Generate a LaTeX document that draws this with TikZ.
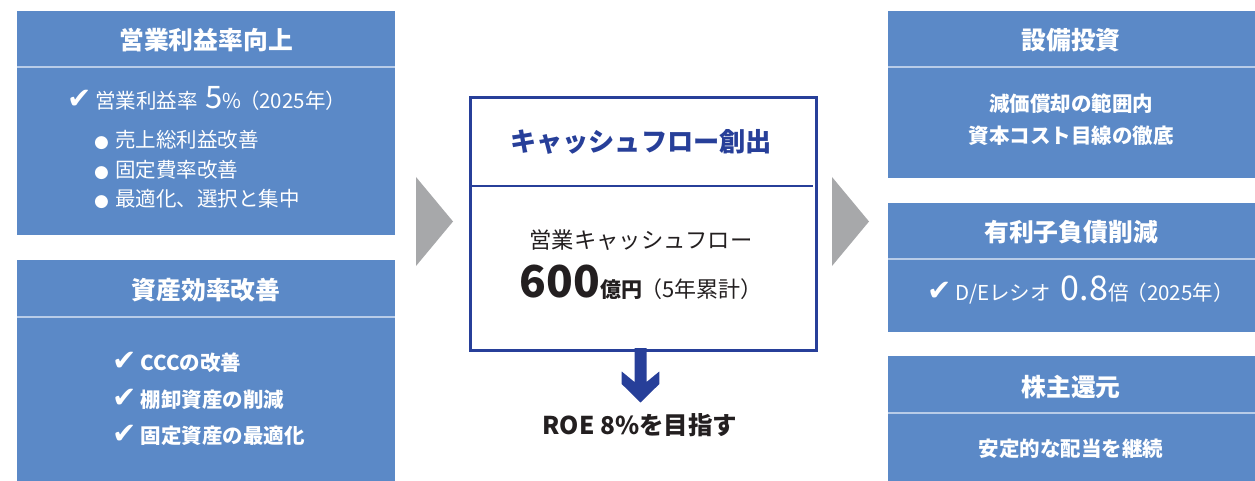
\documentclass[tikz,border=0pt]{standalone}
\usepackage{fontspec}
\setmainfont{Noto Sans CJK JP}
\newfontfamily\sym{DejaVu Sans}
\definecolor{boxblue}{HTML}{5B89C7}
\definecolor{divline}{HTML}{B8CCE8}
\definecolor{navy}{HTML}{273F99}
\definecolor{arrgray}{HTML}{A7A8AA}
\definecolor{txt}{HTML}{231F20}
\newcommand{\fs}[1]{\fontsize{#1}{#1}\selectfont}
\newcommand{\ck}{{\sym\fs{29}✔}}
\tikzset{
  panel/.style={fill=boxblue, draw=none, inner sep=0pt, anchor=north west},
  divider/.style={draw=divline, line width=2pt},
  ptitle/.style={text=white, font=\bfseries\fs{24.8}, inner sep=0pt},
  pbody/.style={text=white, font=\fs{20.5}, inner sep=0pt},
  pbodyb/.style={text=white, font=\bfseries\fs{20.5}, inner sep=0pt},
  cfbox/.style={draw=navy, line width=3pt, fill=white, inner sep=0pt, anchor=north west},
  garrow/.style={fill=arrgray, draw=none},
}
\begin{document}
\begin{tikzpicture}[x=1pt,y=-1pt]
\useasboundingbox (0,0) rectangle (1255,481);
% ---------- left panels
\node[panel, minimum width=378pt, minimum height=224pt] (L1) at (17,11) {};
\draw[divider] (17,67) -- (395,67);
\node[ptitle] (L1t) at (206,40) {営業利益率向上};
\node[pbody, anchor=base west] (L1a) at (67,109) {\ck\hspace{4pt}営業利益率\hspace{7pt}{\fs{31}5}\%\hspace{-2pt}（2025年）};
\node[pbody, anchor=west] (L1b) at (94,140) {{\sym\fs{17}●}\hspace{6pt}売上総利益改善};
\node[pbody, anchor=west] (L1c) at (94,170) {{\sym\fs{17}●}\hspace{6pt}固定費率改善};
\node[pbody, anchor=west] (L1d) at (94,199) {{\sym\fs{17}●}\hspace{6pt}最適化、選択と集中};

\node[panel, minimum width=378pt, minimum height=221pt] (L2) at (17,260) {};
\draw[divider] (17,317) -- (395,317);
\node[ptitle] (L2t) at (206,290) {資産効率改善};
\node[pbodyb, anchor=base west] (L2a) at (112,370) {\ck\hspace{4pt}CCCの改善};
\node[pbodyb, anchor=base west] (L2b) at (112,407) {\ck\hspace{4pt}棚卸資産の削減};
\node[pbodyb, anchor=base west] (L2c) at (112,443) {\ck\hspace{4pt}固定資産の最適化};

% ---------- grey arrows
\fill[garrow] (416,177) -- (453,221.5) -- (416,266) -- cycle;
\fill[garrow] (832,177) -- (869,221.5) -- (832,266) -- cycle;

% ---------- centre box
\node[cfbox, minimum width=346pt, minimum height=252pt] (C) at (469,96.5) {};
\draw[navy, line width=1.2pt] (469,186) -- (813,186);
\node[text=navy, font=\bfseries\fs{26.2}, inner sep=0pt] (Ct) at (641,142) {キャッシュフロー創出};
\node[text=txt, font=\fs{22.3}, inner sep=0pt] (Ca) at (641,240) {営業キャッシュフロー};
\node[text=txt, font=\bfseries\fs{21}, inner sep=0pt, anchor=base] (Cb) at (641,297) {{\fs{44}600}億円\hspace{-2pt}{\mdseries\fs{22}（5年累計）}};

% down arrow
\fill[navy] (634.5,348) -- (634.5,382) -- (621.7,371.5) -- (621.7,384) -- (640.5,402.5)
  -- (659.3,384) -- (659.3,371.5) -- (646.5,382) -- (646.5,348) -- cycle;
\node[text=txt, font=\bfseries\fs{24.5}, inner sep=0pt] (roe) at (640,425) {ROE 8\%を目指す};

% ---------- right panels
\node[panel, minimum width=367pt, minimum height=167pt] (R1) at (888,11) {};
\draw[divider] (888,67.5) -- (1255,67.5);
\node[ptitle] (R1t) at (1071,40) {設備投資};
\node[pbodyb] (R1a) at (1071,104) {減価償却の範囲内};
\node[pbodyb] (R1b) at (1071,136) {資本コスト目線の徹底};

\node[panel, minimum width=367pt, minimum height=129pt] (R2) at (888,203) {};
\draw[divider] (888,259) -- (1255,259);
\node[ptitle] (R2t) at (1071,232) {有利子負債削減};
\node[pbody, anchor=base west] (R2a) at (927,300) {\ck\hspace{4pt}D/Eレシオ\hspace{10pt}{\fs{34}0.8}倍\hspace{-2pt}（2025年）};

\node[panel, minimum width=367pt, minimum height=125pt] (R3) at (888,356) {};
\draw[divider] (888,413) -- (1255,413);
\node[ptitle] (R3t) at (1071,387) {株主還元};
\node[pbodyb] (R3a) at (1071,449) {安定的な配当を継続};
\end{tikzpicture}
\end{document}
